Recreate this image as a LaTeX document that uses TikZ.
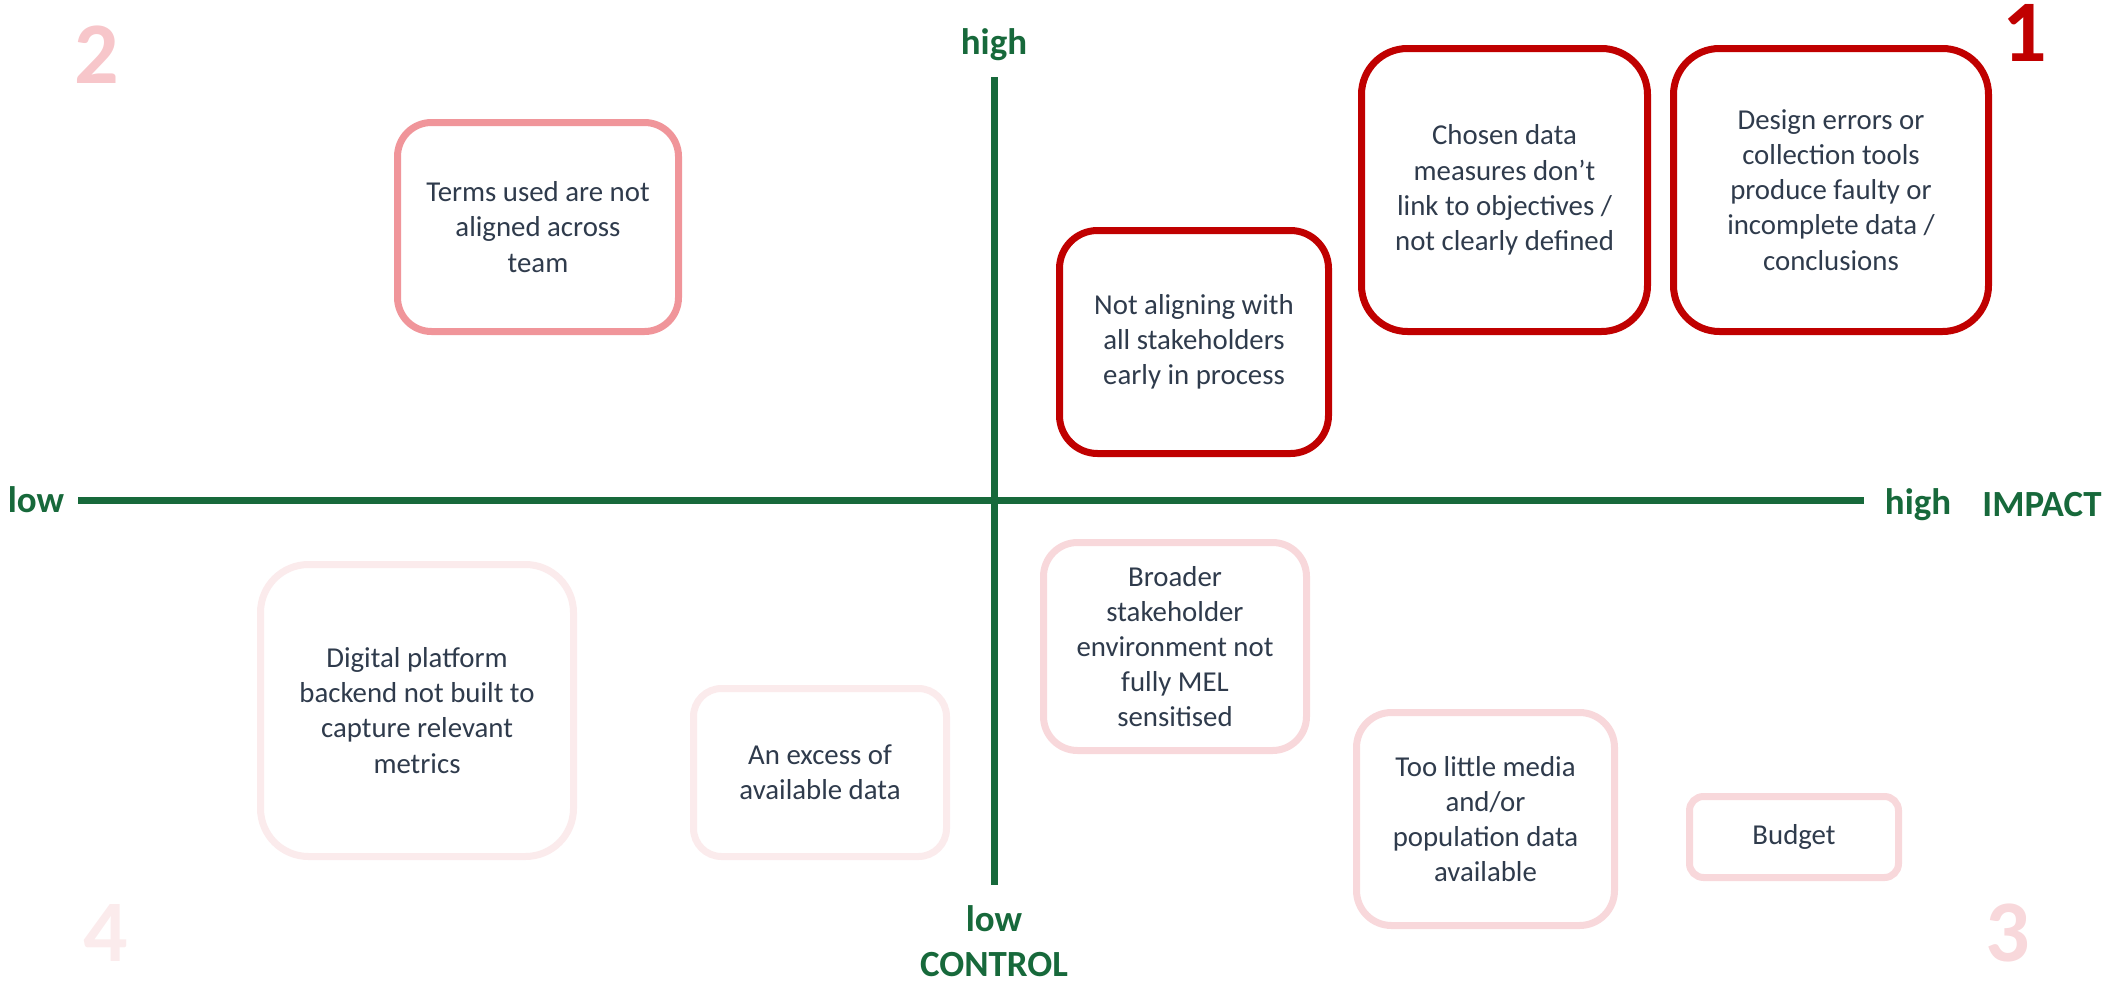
\documentclass[tikz,border=0pt]{standalone}
\usepackage{fontspec}
\setmainfont{Carlito}
\definecolor{axisgreen}{HTML}{17693B}
\definecolor{riskred}{HTML}{C00000}
\definecolor{riskrose}{HTML}{F0959A}
\definecolor{riskpink}{HTML}{F8D8DB}
\definecolor{riskpale}{HTML}{FBEBEC}
\definecolor{numrose}{HTML}{F7C6CA}
\definecolor{textgrey}{HTML}{2F3B4C}
\tikzset{
  axis/.style={line width=0.07cm, draw=axisgreen, line cap=butt},
  axislabel/.style={font=\bfseries\fontsize{10.5}{12}\selectfont, text=axisgreen, inner sep=0pt},
  quadnum/.style={font=\bfseries\fontsize{25}{25}\selectfont, inner sep=0pt},
  risk/.style={rectangle, fill=white, line width=0.07cm, align=center, text=textgrey,
    font=\fontsize{8.2}{10}\selectfont, inner sep=0pt},
  riskA/.style={risk, draw=riskred},
  riskB/.style={risk, draw=riskrose},
  riskC/.style={risk, draw=riskpink},
  riskD/.style={risk, draw=riskpale},
}

\begin{document}
\begin{tikzpicture}
\useasboundingbox (0,0) rectangle (21.18,9.86);
% axes
\coordinate (impactlow) at (0.78,4.86);
\coordinate (impacthigh) at (18.64,4.86);
\coordinate (controlhigh) at (9.94,9.09);
\coordinate (controllow) at (9.94,1.01);
\draw[axis] (impactlow) -- (impacthigh);
\draw[axis] (controlhigh) -- (controllow);
\node[axislabel] (lowimpact) at (0.36,4.86) {low};
\node[axislabel] (highimpact) at (19.18,4.81) {high};
\node[axislabel] (impact) at (20.42,4.81) {IMPACT};
\node[axislabel] (highcontrol) at (9.94,9.41) {high};
\node[axislabel] (lowcontrol) at (9.94,0.67) {low};
\node[axislabel] (control) at (9.94,0.21) {CONTROL};
% quadrant numbers
\node[quadnum, text=riskred] (qone) at (20.25,9.53) {1};
\node[quadnum, text=numrose] (qtwo) at (0.97,9.31) {2};
\node[quadnum, text=riskpink] (qthree) at (20.08,0.53) {3};
\node[quadnum, text=riskpale] (qfour) at (1.06,0.53) {4};
% quadrant 1
\node[riskA, minimum width=2.69cm, minimum height=2.23cm, rounded corners=0.38cm] (aligning) at (11.94,6.44)
  {Not aligning with\\all stakeholders\\early in process};
\node[riskA, minimum width=2.86cm, minimum height=2.83cm, rounded corners=0.46cm] (measures) at (15.045,7.96)
  {Chosen data\\measures don’t\\link to objectives /\\not clearly defined};
\node[riskA, minimum width=3.15cm, minimum height=2.83cm, rounded corners=0.46cm] (design) at (18.31,7.96)
  {Design errors or\\collection tools\\produce faulty or\\incomplete data /\\conclusions};
% quadrant 2
\node[riskB, minimum width=2.81cm, minimum height=2.09cm, rounded corners=0.34cm] (terms) at (5.38,7.59)
  {Terms used are not\\aligned across\\team};
% quadrant 3
\node[riskC, minimum width=2.63cm, minimum height=2.08cm, rounded corners=0.34cm] (broader) at (11.75,3.395)
  {Broader\\stakeholder\\environment not\\fully MEL\\sensitised};
\node[riskC, minimum width=2.58cm, minimum height=2.13cm, rounded corners=0.35cm] (media) at (14.855,1.67)
  {Too little media\\and/or\\population data\\available};
\node[riskC, minimum width=2.09cm, minimum height=0.81cm, rounded corners=0.14cm] (budget) at (17.94,1.49)
  {Budget};
% quadrant 4
\node[riskD, minimum width=3.13cm, minimum height=2.92cm, rounded corners=0.48cm] (platform) at (4.17,2.755)
  {Digital platform\\backend not built to\\capture relevant\\metrics};
\node[riskD, minimum width=2.53cm, minimum height=1.68cm, rounded corners=0.28cm] (excess) at (8.20,2.135)
  {An excess of\\available data};
\end{tikzpicture}
\end{document}
